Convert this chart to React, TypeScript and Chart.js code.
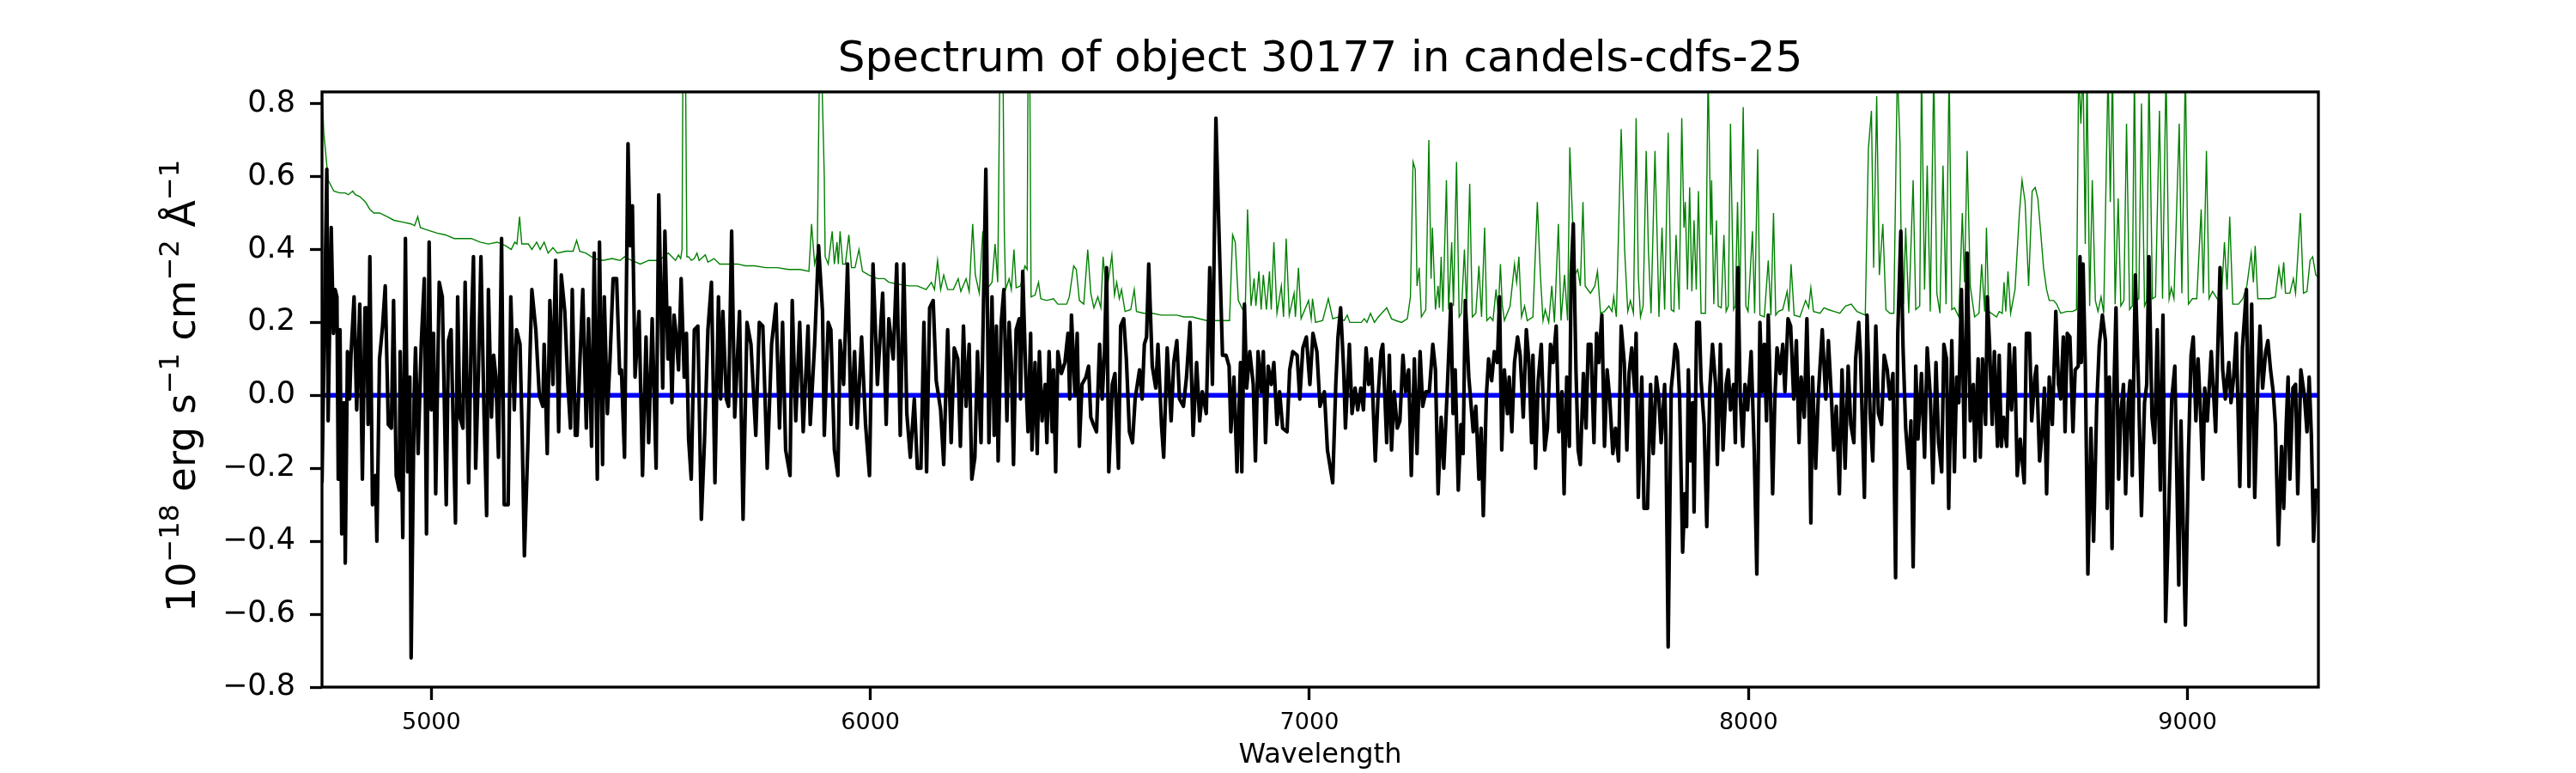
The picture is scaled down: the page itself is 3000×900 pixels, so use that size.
import React, { useEffect, useRef } from "react";
import { Chart, registerables } from "chart.js";

Chart.register(...registerables);

const FONT = "'DejaVu Sans', sans-serif";

const titleText = "Spectrum of object 30177 in candels-cdfs-25";
const xLabel = "Wavelength";
// y label pieces: [text, isSuperscript]
const yLabelParts: [string, boolean][] = [
  ["10", false],
  ["\u221218", true],
  [" erg s", false],
  ["\u22121", true],
  [" cm", false],
  ["\u22122", true],
  [" \u00c5", false],
  ["\u22121", true],
];

const xTicks = [5000, 6000, 7000, 8000, 9000];
const yTicks = [-0.8, -0.6, -0.4, -0.2, 0, 0.2, 0.4, 0.6, 0.8];
const xRange = [4751, 9298];
const yRange = [-0.8, 0.832];

// observed flux, [wavelength, flux]
const flux4750: [number, number][] = [
  [4751, -0.24], [4762, 0.62], [4765, -0.07], [4772, 0.46], [4777, 0.17], [4781, 0.29], [4785, 0.27], [4788, -0.23],
  [4792, 0.18], [4796, -0.38], [4801, -0.02], [4804, -0.46], [4809, 0.12], [4814, -0.01], [4817, 0.11], [4824, 0.27],
  [4830, -0.04], [4837, 0.25], [4843, -0.23], [4849, 0.24], [4853, 0.24], [4856, -0.08], [4860, 0.38], [4866, -0.3],
  [4873, -0.22], [4876, -0.4], [4882, 0.1], [4889, 0.19], [4895, 0.3], [4902, -0.08], [4909, -0.09], [4914, 0.26],
  [4920, -0.22], [4927, -0.26], [4929, 0.12], [4935, -0.39], [4941, 0.43], [4946, -0.21], [4951, 0.05], [4954, -0.72],
  [4961, 0.0], [4964, 0.13], [4970, -0.16], [4977, 0.14], [4984, 0.32], [4989, -0.38], [4995, 0.42], [5000, -0.04],
  [5005, 0.17], [5010, -0.27], [5018, 0.31], [5025, 0.27], [5029, 0.02], [5034, -0.3], [5039, 0.15], [5045, 0.18],
  [5051, -0.15], [5055, -0.35], [5060, 0.27], [5065, -0.06], [5072, -0.09], [5077, 0.31], [5085, -0.24], [5091, 0.18],
  [5096, 0.38], [5101, -0.2], [5107, 0.05], [5113, 0.38], [5120, -0.05], [5126, -0.33], [5130, 0.29], [5137, -0.06],
  [5142, 0.11], [5147, 0.05], [5153, -0.17], [5160, 0.43], [5166, -0.3], [5175, -0.3], [5181, 0.27], [5189, -0.04],
  [5194, 0.18], [5202, 0.14], [5207, -0.11], [5212, -0.44], [5220, -0.13], [5225, 0.12], [5229, 0.29], [5238, 0.18],
  [5246, 0.0], [5254, -0.03], [5257, 0.14], [5264, -0.16], [5270, 0.26], [5277, 0.03], [5283, 0.37], [5290, -0.1],
  [5296, 0.33], [5304, 0.23], [5311, 0.03], [5317, -0.09], [5321, 0.29], [5328, -0.11], [5332, -0.11], [5338, 0.08],
  [5345, 0.29], [5353, -0.09], [5358, 0.21], [5365, -0.14], [5371, 0.39], [5378, -0.23], [5383, 0.42], [5390, -0.19],
  [5394, 0.27], [5401, -0.05], [5407, 0.1], [5414, 0.32], [5422, 0.32], [5429, 0.06], [5433, 0.07], [5440, -0.17],
  [5448, 0.69], [5453, 0.41], [5458, 0.52], [5464, 0.05], [5473, 0.23], [5481, -0.22], [5489, 0.16], [5495, -0.13],
  [5503, 0.21], [5512, -0.2], [5518, 0.55],
];

const flux5500: [number, number][] = [
  [5527, 0.02], [5532, 0.45], [5539, 0.1], [5543, 0.24], [5548, -0.02], [5553, 0.22], [5558, 0.16], [5563, 0.07],
  [5569, 0.32], [5576, 0.05], [5581, 0.17], [5586, -0.12], [5592, -0.23], [5599, 0.18], [5607, 0.19], [5615, -0.34],
  [5622, -0.13], [5630, 0.18], [5638, 0.31], [5646, -0.24], [5654, 0.27], [5659, -0.01], [5664, 0.23], [5672, -0.01],
  [5677, -0.03], [5684, 0.45], [5691, -0.06], [5702, 0.23], [5710, -0.34], [5719, 0.2], [5728, 0.14], [5739, -0.11],
  [5747, 0.2], [5755, 0.19], [5765, -0.2], [5775, 0.14], [5785, 0.25], [5793, -0.09], [5800, 0.2], [5807, -0.15],
  [5817, -0.22], [5822, 0.26], [5830, -0.07], [5839, 0.2], [5847, -0.1], [5858, 0.19], [5863, -0.08], [5873, 0.14],
  [5882, 0.41], [5891, 0.23], [5895, -0.11], [5904, 0.2], [5910, 0.18], [5918, -0.15], [5926, -0.22], [5931, 0.15],
  [5939, 0.03], [5948, 0.36], [5956, -0.08], [5964, 0.12], [5970, -0.09], [5980, 0.16], [5989, -0.08], [5998, -0.22],
  [6006, 0.36], [6016, 0.03], [6028, 0.28], [6036, -0.08], [6042, 0.21], [6052, 0.1], [6060, 0.36], [6068, -0.11],
  [6076, 0.36], [6083, -0.05], [6091, -0.17], [6100, -0.01], [6107, -0.2], [6115, -0.2], [6122, 0.2], [6128, -0.21],
  [6135, 0.24], [6143, 0.26], [6150, 0.04], [6160, -0.04], [6167, -0.19], [6176, 0.18], [6184, -0.13], [6191, 0.13],
  [6199, 0.1], [6205, -0.14], [6212, 0.19], [6218, -0.03], [6225, 0.14], [6231, -0.23], [6238, -0.17], [6244, 0.12],
  [6252, -0.13], [6263, 0.62], [6270, -0.13], [6277, 0.27],
];

const flux6280: [number, number][] = [
  [6282, -0.11], [6287, 0.19], [6291, -0.18], [6298, 0.2], [6304, 0.29], [6311, -0.07], [6316, 0.2], [6321, 0.09],
  [6326, -0.19], [6332, 0.18], [6339, 0.21], [6342, -0.01], [6347, 0.34], [6354, 0.05], [6359, -0.1], [6365, 0.17],
  [6368, -0.15], [6375, 0.09], [6380, -0.16], [6385, 0.12], [6391, -0.07], [6398, 0.03], [6402, -0.13], [6407, 0.12],
  [6414, -0.1], [6417, 0.07], [6422, -0.21], [6427, 0.12], [6435, 0.06], [6443, 0.09], [6450, 0.17], [6454, -0.01],
  [6458, 0.22], [6466, 0.0], [6471, 0.17], [6476, -0.14], [6482, 0.03], [6491, 0.05], [6497, 0.08], [6502, -0.06],
  [6508, -0.08], [6515, -0.1], [6522, 0.14], [6528, -0.01], [6533, 0.11], [6538, 0.35], [6543, -0.21], [6551, 0.03],
  [6557, 0.06], [6565, -0.2], [6570, 0.19], [6577, 0.21], [6583, 0.1], [6590, -0.1], [6597, -0.13], [6603, -0.01],
  [6613, 0.07], [6619, -0.01], [6624, 0.14], [6629, 0.16], [6634, 0.36], [6642, 0.08], [6650, 0.02], [6655, 0.14],
  [6663, -0.08], [6668, -0.17], [6676, 0.13], [6685, -0.07], [6691, 0.09], [6698, 0.15], [6704, -0.01], [6713, -0.03],
  [6720, 0.05], [6728, 0.2], [6735, -0.11], [6743, 0.09], [6750, -0.07], [6756, 0.01], [6765, -0.05], [6773, 0.35],
  [6779, 0.03], [6787, 0.76], [6793, 0.49], [6802, 0.11], [6810, 0.11], [6817, 0.08], [6821, -0.1], [6828, 0.05],
  [6835, -0.21], [6843, 0.09], [6846, -0.21], [6852, 0.25], [6857, 0.02], [6864, 0.12], [6872, 0.03], [6877, -0.18],
  [6883, 0.12], [6890, 0.01], [6895, 0.12], [6900, -0.13], [6906, 0.08], [6913, 0.03], [6919, 0.09], [6926, -0.08],
  [6932, 0.01], [6939, -0.09], [6949, -0.1], [6955, 0.07], [6962, 0.12], [6972, 0.11], [6978, -0.01], [6985, 0.13],
  [6993, 0.16], [7001, 0.03], [7008, 0.17], [7017, 0.12], [7024, -0.03], [7034, 0.01], [7041, -0.15],
];

const flux7050: [number, number][] = [
  [7053, -0.24], [7060, 0.03], [7065, 0.16], [7071, 0.24], [7078, 0.07], [7082, -0.09], [7091, 0.14], [7097, -0.05],
  [7104, 0.02], [7110, -0.04], [7117, 0.02], [7123, -0.04], [7129, 0.13], [7135, 0.03], [7141, 0.1], [7150, -0.18],
  [7156, -0.01], [7163, 0.12], [7167, 0.14], [7176, -0.13], [7182, 0.11], [7187, -0.15], [7193, 0.01], [7200, -0.09],
  [7206, -0.07], [7213, 0.11], [7219, 0.01], [7226, 0.07], [7232, -0.22], [7239, 0.1], [7245, -0.16], [7252, 0.12],
  [7258, -0.03], [7265, 0.01], [7273, 0.01], [7281, 0.14], [7287, 0.07], [7293, -0.27], [7300, -0.06], [7306, -0.2],
  [7314, 0.02], [7322, 0.25], [7327, -0.05], [7332, 0.07], [7339, -0.26], [7345, -0.08], [7350, -0.16], [7355, 0.26],
  [7363, 0.05], [7373, -0.1], [7379, -0.03], [7386, -0.23], [7391, -0.09], [7396, -0.33], [7403, 0.0], [7408, 0.1],
  [7415, 0.04], [7421, 0.12], [7428, 0.09], [7433, 0.27], [7438, -0.15], [7444, 0.07], [7451, -0.05], [7455, 0.05],
  [7461, -0.1], [7467, 0.09], [7474, 0.16], [7480, 0.11], [7487, -0.06], [7494, 0.18], [7500, 0.09], [7506, -0.13],
  [7509, 0.11], [7515, -0.2], [7521, 0.04], [7528, 0.14], [7536, -0.15], [7542, -0.09], [7549, 0.14], [7555, 0.09],
  [7562, 0.19], [7568, -0.1], [7575, 0.01], [7580, -0.27], [7586, 0.05], [7592, -0.14], [7596, 0.33], [7601, 0.47],
  [7607, 0.07], [7612, -0.15], [7617, -0.19], [7624, 0.06], [7630, -0.09], [7635, 0.14], [7641, 0.14], [7648, -0.13],
  [7654, 0.17], [7659, 0.09], [7666, 0.22], [7672, -0.14], [7678, 0.07], [7684, -0.01], [7691, -0.16], [7697, -0.09],
  [7704, -0.18], [7710, 0.19], [7717, 0.09], [7723, -0.15], [7728, 0.06], [7734, 0.13], [7741, 0.01], [7744, 0.17],
  [7749, -0.28], [7757, 0.05], [7762, -0.31], [7770, -0.31], [7777, 0.03], [7783, -0.16], [7790, 0.05], [7796, -0.01],
  [7801, -0.13], [7809, 0.03],
];

const flux7810: [number, number][] = [
  [7812, -0.12], [7817, -0.69], [7824, 0.02], [7829, 0.08], [7833, 0.14], [7838, 0.12], [7843, 0.0], [7850, -0.43],
  [7855, -0.27], [7859, -0.36], [7863, 0.07], [7868, -0.18], [7873, -0.02], [7876, -0.32], [7882, 0.2], [7888, 0.2],
  [7892, 0.04], [7899, -0.08], [7905, -0.36], [7912, 0.02], [7918, 0.14], [7925, 0.03], [7929, -0.19], [7936, 0.14],
  [7942, -0.15], [7949, 0.03], [7954, 0.07], [7959, -0.04], [7966, 0.03], [7970, -0.13], [7976, 0.35], [7981, 0.0],
  [7987, -0.14], [7992, 0.03], [7998, -0.04], [8006, 0.12], [8013, -0.15], [8019, -0.49], [8026, 0.2], [8031, 0.01],
  [8036, 0.14], [8041, -0.07], [8045, 0.22], [8051, -0.05], [8055, -0.27], [8060, -0.01], [8065, 0.13], [8072, 0.06],
  [8078, 0.14], [8083, 0.01], [8090, 0.21], [8096, 0.19], [8103, -0.01], [8109, 0.15], [8115, -0.13], [8120, 0.05],
  [8127, -0.06], [8133, 0.21], [8139, -0.11], [8142, -0.35], [8146, 0.05], [8153, -0.2], [8159, 0.0], [8168, 0.18],
  [8176, -0.01], [8182, 0.15], [8189, -0.01], [8194, -0.15], [8200, -0.03], [8207, -0.27], [8213, 0.07], [8220, -0.2],
  [8227, 0.08], [8233, -0.08], [8240, -0.13], [8244, 0.1], [8251, 0.2], [8255, 0.11], [8261, -0.15], [8264, -0.28],
  [8270, 0.22], [8277, -0.05], [8283, -0.18], [8290, 0.19], [8296, -0.05], [8303, -0.08], [8309, 0.11], [8316, 0.07],
  [8322, -0.01], [8329, 0.06], [8335, -0.5], [8340, 0.17], [8347, 0.45], [8352, 0.13], [8358, -0.09], [8365, -0.2],
  [8370, -0.07], [8375, -0.47], [8381, 0.08], [8386, -0.12], [8394, 0.06], [8401, -0.17], [8407, 0.13], [8414, 0.0],
  [8420, -0.24], [8427, 0.09], [8433, -0.13], [8440, -0.21], [8445, 0.14], [8451, 0.1], [8456, -0.31], [8463, 0.15],
  [8469, -0.21], [8474, 0.05], [8479, -0.02], [8485, 0.29], [8492, -0.17], [8498, 0.39], [8505, -0.07], [8512, 0.03],
  [8516, -0.18], [8523, 0.1], [8528, -0.17], [8533, 0.1], [8540, -0.08], [8544, 0.27], [8549, 0.14], [8555, -0.08],
  [8560, 0.12], [8567, -0.14],
];

const flux8570: [number, number][] = [
  [8571, 0.11], [8576, -0.14], [8581, -0.06], [8588, -0.14], [8594, 0.14], [8599, -0.04], [8606, 0.13], [8612, -0.22],
  [8619, -0.12], [8628, -0.24], [8633, 0.17], [8640, 0.17], [8645, -0.07], [8652, 0.05], [8656, 0.08], [8663, -0.18],
  [8669, -0.1], [8674, 0.02], [8679, -0.27], [8685, 0.05], [8692, -0.08], [8700, 0.23], [8706, 0.03], [8711, -0.01],
  [8717, 0.16], [8721, -0.1], [8726, 0.17], [8732, 0.16], [8739, -0.1], [8744, 0.07], [8751, 0.08], [8755, 0.38],
  [8758, 0.09], [8762, 0.36], [8767, 0.09], [8773, -0.49], [8780, -0.09], [8786, -0.4], [8793, -0.03], [8799, 0.14],
  [8806, 0.22], [8813, 0.15], [8817, -0.31], [8822, 0.05], [8828, -0.42], [8832, 0.0], [8837, 0.24], [8843, -0.23],
  [8848, -0.05], [8854, 0.03], [8859, -0.27], [8865, -0.02], [8869, 0.04], [8874, -0.22], [8881, 0.33], [8888, 0.04],
  [8895, -0.33], [8902, -0.02], [8907, 0.03], [8912, 0.38], [8919, -0.06], [8925, -0.13], [8931, 0.18], [8938, -0.26],
  [8944, 0.22], [8950, -0.62], [8958, -0.28], [8964, -0.01], [8971, 0.08], [8980, -0.52], [8985, -0.07], [8995, -0.63],
  [9002, -0.16], [9008, 0.11], [9013, 0.16], [9019, -0.07], [9024, 0.1], [9030, -0.06], [9035, -0.23], [9039, 0.02],
  [9045, -0.07], [9054, 0.12], [9064, -0.1], [9070, 0.18], [9074, 0.35], [9080, 0.07], [9086, -0.01], [9094, 0.09],
  [9099, -0.02], [9105, 0.05], [9111, 0.17], [9119, -0.25], [9125, 0.13], [9134, 0.29], [9140, -0.25], [9146, 0.25],
  [9153, -0.28], [9160, 0.03], [9165, 0.19], [9171, 0.02], [9178, 0.12], [9183, 0.15], [9189, 0.07], [9195, 0.01],
  [9200, -0.08], [9207, -0.41], [9214, -0.14], [9219, -0.31], [9225, -0.07], [9229, 0.05], [9233, -0.23], [9240, 0.02],
  [9246, 0.03], [9251, -0.27], [9258, 0.07], [9266, 0.0], [9272, -0.1], [9277, 0.05], [9282, -0.11], [9287, -0.4],
  [9292, -0.26], [9298, -0.28],
];

// error / sky spectrum, [wavelength, flux]
const noise4750: [number, number][] = [
  [4751, 0.95], [4752, 0.82], [4755, 0.72], [4759, 0.67], [4765, 0.59], [4778, 0.56], [4791, 0.555], [4804, 0.555],
  [4811, 0.55], [4821, 0.56], [4827, 0.55], [4837, 0.545], [4850, 0.53], [4860, 0.51], [4869, 0.5], [4882, 0.5],
  [4899, 0.49], [4915, 0.48], [4935, 0.475], [4954, 0.47], [4962, 0.465], [4969, 0.49], [4975, 0.46], [4987, 0.455],
  [5013, 0.445], [5032, 0.44], [5052, 0.43], [5072, 0.43], [5091, 0.43], [5111, 0.42], [5130, 0.415], [5150, 0.42],
  [5169, 0.41], [5182, 0.4], [5190, 0.42], [5195, 0.415], [5201, 0.49], [5206, 0.415], [5221, 0.415], [5229, 0.4],
  [5240, 0.42], [5248, 0.4], [5257, 0.42], [5266, 0.39], [5277, 0.405], [5287, 0.39], [5306, 0.395], [5323, 0.395],
  [5331, 0.425], [5338, 0.395], [5352, 0.39], [5371, 0.375], [5391, 0.37], [5411, 0.375], [5430, 0.37], [5440, 0.38],
  [5456, 0.37], [5476, 0.36], [5495, 0.37], [5518, 0.37], [5540, 0.39], [5556, 0.37], [5563, 0.385], [5568, 0.375],
  [5571, 0.4], [5573, 0.9], [5577, 0.9], [5579, 0.9], [5582, 0.38], [5586, 0.38], [5592, 0.37], [5599, 0.375],
  [5605, 0.39], [5610, 0.37], [5624, 0.385], [5630, 0.365], [5644, 0.375], [5657, 0.36], [5677, 0.36], [5697, 0.36],
  [5716, 0.355], [5736, 0.355], [5762, 0.35], [5788, 0.35], [5814, 0.345], [5840, 0.345], [5860, 0.34], [5866, 0.47],
  [5873, 0.36], [5879, 0.39], [5884, 0.9], [5889, 0.9], [5892, 0.75], [5895, 0.6], [5897, 0.38], [5904, 0.36],
  [5913, 0.45], [5918, 0.36], [5924, 0.42], [5927, 0.36], [5931, 0.45], [5937, 0.36], [5943, 0.36], [5951, 0.44],
  [5957, 0.35], [5965, 0.35], [5974, 0.4], [5982, 0.34], [5996, 0.33], [6016, 0.32], [6032, 0.32], [6042, 0.31],
  [6062, 0.305], [6088, 0.3], [6107, 0.3], [6127, 0.29], [6139, 0.31], [6146, 0.29], [6153, 0.37], [6160, 0.29],
  [6167, 0.33], [6176, 0.29], [6189, 0.29], [6200, 0.32], [6206, 0.285], [6218, 0.32], [6225, 0.285], [6233, 0.47],
  [6239, 0.33], [6248, 0.28], [6256, 0.45], [6264, 0.29],
];

const noise6270: [number, number][] = [
  [6271, 0.3], [6277, 0.31], [6284, 0.415], [6290, 0.31], [6295, 0.9], [6299, 0.9], [6302, 0.9], [6305, 0.45],
  [6308, 0.29], [6316, 0.32], [6321, 0.29], [6327, 0.4], [6332, 0.295], [6342, 0.3], [6352, 0.355], [6357, 0.345],
  [6359, 0.9], [6363, 0.9], [6366, 0.27], [6375, 0.275], [6383, 0.31], [6388, 0.265], [6401, 0.26], [6417, 0.265],
  [6427, 0.25], [6447, 0.25], [6453, 0.27], [6463, 0.355], [6469, 0.345], [6476, 0.26], [6486, 0.25], [6495, 0.4],
  [6502, 0.28], [6509, 0.24], [6518, 0.27], [6525, 0.24], [6530, 0.38], [6538, 0.28], [6550, 0.385], [6556, 0.275],
  [6561, 0.31], [6567, 0.265], [6572, 0.29], [6580, 0.23], [6593, 0.235], [6601, 0.29], [6606, 0.23], [6623, 0.225],
  [6642, 0.225], [6662, 0.22], [6681, 0.22], [6698, 0.22], [6714, 0.215], [6733, 0.215], [6766, 0.205], [6792, 0.205],
  [6818, 0.205], [6825, 0.44], [6831, 0.42], [6838, 0.26], [6848, 0.235], [6854, 0.245], [6859, 0.51], [6867, 0.245],
  [6874, 0.32], [6878, 0.245], [6885, 0.34], [6890, 0.235], [6895, 0.33], [6902, 0.235], [6909, 0.34], [6913, 0.235],
  [6919, 0.42], [6926, 0.225], [6936, 0.3], [6941, 0.215], [6947, 0.43], [6954, 0.22], [6965, 0.28], [6968, 0.215],
  [6975, 0.35], [6981, 0.21], [6998, 0.26], [7004, 0.21], [7007, 0.265], [7014, 0.2], [7030, 0.205], [7043, 0.265],
  [7053, 0.21], [7066, 0.215], [7079, 0.205], [7086, 0.22], [7092, 0.2], [7118, 0.2], [7125, 0.21], [7131, 0.2],
  [7139, 0.225], [7148, 0.2], [7157, 0.215], [7176, 0.24], [7187, 0.21], [7197, 0.205], [7210, 0.2], [7223, 0.21],
];

const noise7230: [number, number][] = [
  [7230, 0.27], [7236, 0.64], [7241, 0.62], [7245, 0.3], [7250, 0.35], [7255, 0.215], [7265, 0.235], [7272, 0.7],
  [7277, 0.32], [7280, 0.46], [7287, 0.235], [7293, 0.3], [7296, 0.24], [7300, 0.38], [7304, 0.23], [7312, 0.59],
  [7317, 0.235], [7324, 0.42], [7328, 0.245], [7335, 0.64], [7341, 0.215], [7346, 0.225], [7353, 0.4], [7358, 0.235],
  [7365, 0.58], [7371, 0.215], [7379, 0.225], [7386, 0.355], [7392, 0.215], [7399, 0.46], [7404, 0.205], [7412, 0.215],
  [7418, 0.205], [7425, 0.29], [7430, 0.225], [7435, 0.36], [7439, 0.25], [7444, 0.205], [7457, 0.245], [7467, 0.36],
  [7472, 0.31], [7477, 0.38], [7483, 0.215], [7490, 0.245], [7496, 0.205], [7509, 0.215], [7519, 0.53], [7526, 0.33],
  [7532, 0.205], [7537, 0.235], [7545, 0.2], [7552, 0.3], [7558, 0.2], [7567, 0.47], [7573, 0.205], [7581, 0.33],
  [7588, 0.205], [7593, 0.68], [7599, 0.49], [7604, 0.33], [7611, 0.345], [7617, 0.3], [7623, 0.53], [7628, 0.3],
  [7640, 0.28], [7650, 0.3], [7656, 0.34], [7663, 0.225], [7672, 0.23], [7682, 0.245], [7689, 0.23], [7693, 0.27],
  [7699, 0.215], [7710, 0.73], [7715, 0.53], [7718, 0.395], [7725, 0.23], [7731, 0.26], [7738, 0.225], [7744, 0.76],
  [7749, 0.33], [7754, 0.215], [7760, 0.245], [7767, 0.67], [7772, 0.4], [7778, 0.225], [7787, 0.67], [7793, 0.38],
  [7796, 0.215], [7803, 0.46], [7809, 0.235], [7817, 0.72], [7824, 0.235], [7830, 0.23], [7835, 0.44], [7842, 0.235],
  [7848, 0.76], [7853, 0.46], [7856, 0.53], [7861, 0.29], [7866, 0.57], [7871, 0.285], [7876, 0.48], [7881, 0.29],
  [7886, 0.56], [7892, 0.225], [7902, 0.225], [7908, 0.9], [7914, 0.44], [7916, 0.59], [7921, 0.25], [7927, 0.48],
  [7931, 0.245], [7938, 0.24], [7944, 0.44], [7949, 0.23], [7954, 0.245], [7959, 0.745], [7966, 0.235], [7970, 0.245],
  [7975, 0.53], [7980, 0.25], [7988, 0.79], [7994, 0.245], [7999, 0.23],
];

const noise8000: [number, number][] = [
  [8009, 0.45], [8014, 0.225], [8021, 0.675], [8026, 0.22], [8036, 0.215], [8045, 0.37], [8051, 0.22], [8057, 0.5],
  [8062, 0.22], [8068, 0.23], [8078, 0.235], [8088, 0.285], [8092, 0.23], [8097, 0.36], [8104, 0.22], [8117, 0.215],
  [8130, 0.26], [8137, 0.24], [8142, 0.295], [8148, 0.23], [8163, 0.225], [8172, 0.24], [8182, 0.235], [8195, 0.23],
  [8208, 0.225], [8221, 0.245], [8234, 0.25], [8247, 0.23], [8266, 0.22], [8273, 0.675], [8280, 0.78], [8285, 0.35],
  [8292, 0.82], [8298, 0.33], [8306, 0.47], [8313, 0.235], [8322, 0.225], [8331, 0.225], [8339, 0.9], [8345, 0.69],
  [8349, 0.29], [8353, 0.25], [8358, 0.46], [8365, 0.225], [8375, 0.59], [8381, 0.235], [8390, 0.245], [8394, 0.9],
  [8401, 0.29], [8407, 0.63], [8414, 0.23], [8422, 0.9], [8429, 0.28], [8436, 0.225], [8443, 0.63], [8450, 0.25],
  [8457, 0.9], [8463, 0.235], [8469, 0.24], [8479, 0.215], [8487, 0.5], [8492, 0.31], [8498, 0.67], [8505, 0.3],
  [8515, 0.215], [8525, 0.225], [8531, 0.36], [8538, 0.23], [8542, 0.46], [8547, 0.23], [8565, 0.215], [8571, 0.23],
  [8578, 0.225], [8582, 0.31], [8586, 0.23], [8591, 0.34], [8597, 0.225], [8607, 0.29], [8617, 0.5], [8623, 0.59],
  [8630, 0.53], [8638, 0.3], [8646, 0.56], [8653, 0.57], [8659, 0.54], [8666, 0.44], [8672, 0.35], [8679, 0.29],
  [8685, 0.26], [8695, 0.26], [8702, 0.25], [8711, 0.225], [8725, 0.23], [8738, 0.23], [8747, 0.235],
];

const noise8750: [number, number][] = [
  [8752, 0.9], [8757, 0.745], [8762, 0.9], [8767, 0.415], [8771, 0.9], [8777, 0.245], [8783, 0.59], [8790, 0.26],
  [8796, 0.23], [8803, 0.27], [8809, 0.225], [8819, 0.9], [8824, 0.53], [8829, 0.9], [8835, 0.25], [8842, 0.54],
  [8848, 0.245], [8855, 0.26], [8861, 0.745], [8868, 0.235], [8874, 0.245], [8879, 0.9], [8884, 0.26], [8889, 0.265],
  [8895, 0.8], [8902, 0.245], [8907, 0.26], [8912, 0.9], [8920, 0.265], [8927, 0.27], [8936, 0.78], [8943, 0.265],
  [8951, 0.9], [8958, 0.265], [8963, 0.295], [8969, 0.265], [8981, 0.745], [8987, 0.28], [8995, 0.9], [9002, 0.25],
  [9011, 0.265], [9021, 0.265], [9031, 0.51], [9036, 0.28], [9043, 0.67], [9049, 0.265], [9057, 0.285], [9070, 0.26],
  [9077, 0.265], [9084, 0.42], [9090, 0.29], [9096, 0.49], [9103, 0.25], [9116, 0.25], [9126, 0.265], [9135, 0.3],
  [9145, 0.39], [9150, 0.31], [9154, 0.41], [9160, 0.265], [9174, 0.265], [9187, 0.265], [9200, 0.27], [9208, 0.35],
  [9214, 0.3], [9219, 0.365], [9223, 0.28], [9233, 0.28], [9241, 0.32], [9246, 0.28], [9257, 0.5], [9264, 0.28],
  [9272, 0.285], [9279, 0.37], [9285, 0.38], [9292, 0.33], [9297, 0.325],
];

// model continuum
const modelWave = [4751, 9298];
const modelFlux = [0, 0];

const fluxPoints = [...flux4750, ...flux5500, ...flux6280, ...flux7050, ...flux7810, ...flux8570];
const noisePoints = [...noise4750, ...noise6270, ...noise7230, ...noise8000, ...noise8750];

const fmtY = (v: number) => {
  const s = Math.abs(v).toFixed(1);
  return v < -1e-9 ? "\u2212" + s : s;
};

const textPlugin = {
  id: "spectrumText",
  afterDraw(chart: Chart) {
    const { ctx, chartArea } = chart;
    const cx = (chartArea.left + chartArea.right) / 2;
    ctx.save();
    // axes frame
    ctx.strokeStyle = "#000";
    ctx.lineWidth = 3.3;
    ctx.strokeRect(chartArea.left, chartArea.top, chartArea.right - chartArea.left, chartArea.bottom - chartArea.top);

    ctx.fillStyle = "#000";
    ctx.textBaseline = "alphabetic";
    ctx.textAlign = "center";
    ctx.font = `50px ${FONT}`;
    ctx.fillText(titleText, cx, chartArea.top - 24);
    ctx.font = `32px ${FONT}`;
    ctx.fillText(xLabel, cx, chartArea.bottom + 88);

    // rotated y label with superscripts
    const mainFont = `46px ${FONT}`;
    const supFont = `32px ${FONT}`;
    let total = 0;
    const widths = yLabelParts.map(([t, sup]) => {
      ctx.font = sup ? supFont : mainFont;
      const w = ctx.measureText(t).width;
      total += w;
      return w;
    });
    ctx.translate(227, (chartArea.top + chartArea.bottom) / 2 - 4);
    ctx.rotate(-Math.PI / 2);
    ctx.textAlign = "left";
    let x = -total / 2;
    yLabelParts.forEach(([t, sup], i) => {
      ctx.font = sup ? supFont : mainFont;
      ctx.fillText(t, x, sup ? -19 : 0);
      x += widths[i];
    });
    ctx.restore();
  },
};

const App: React.FC = () => {
  const chartRef = useRef<HTMLCanvasElement | null>(null);
  const chartInstance = useRef<Chart | null>(null);

  useEffect(() => {
    if (!chartRef.current) return;
    if (chartInstance.current) chartInstance.current.destroy();

    chartInstance.current = new Chart(chartRef.current, {
      type: "line",
      data: {
        datasets: [
          {
            label: "flux",
            data: fluxPoints.map(([x, y]) => ({ x, y })),
            borderColor: "#000000",
            borderWidth: 4.2,
            pointRadius: 0,
            tension: 0,
            borderJoinStyle: "round",
            clip: 0,
          },
          {
            label: "model",
            data: modelWave.map((x, i) => ({ x, y: modelFlux[i] })),
            borderColor: "#0000ff",
            borderWidth: 5.5,
            pointRadius: 0,
            clip: 0,
          },
          {
            label: "error",
            data: noisePoints.map(([x, y]) => ({ x, y })),
            borderColor: "#008000",
            borderWidth: 1.4,
            pointRadius: 0,
            tension: 0,
            clip: 0,
          },
        ],
      },
      options: {
        animation: false,
        responsive: false,
        devicePixelRatio: 1,
        layout: { padding: { left: 0, right: 300, top: 107, bottom: 0 } },
        plugins: {
          legend: { display: false },
          tooltip: { enabled: false },
          title: { display: false },
        },
        scales: {
          x: {
            type: "linear",
            min: xRange[0],
            max: xRange[1],
            afterFit: (s: any) => {
              s.height = 100;
            },
            afterBuildTicks: (s: any) => {
              s.ticks = xTicks.map((v) => ({ value: v }));
            },
            grid: { drawOnChartArea: false, drawTicks: true, tickLength: 15, tickWidth: 3.3, tickColor: "#000" },
            border: { display: false },
            ticks: {
              color: "#000",
              font: { family: FONT, size: 27 },
              padding: 11,
              maxRotation: 0,
              autoSkip: false,
              callback: (v: any) => String(v),
            },
          },
          y: {
            type: "linear",
            min: yRange[0],
            max: yRange[1],
            afterFit: (s: any) => {
              s.width = 375;
            },
            afterBuildTicks: (s: any) => {
              s.ticks = yTicks.map((v) => ({ value: v }));
            },
            grid: { drawOnChartArea: false, drawTicks: true, tickLength: 14, tickWidth: 3.3, tickColor: "#000" },
            border: { display: false },
            ticks: {
              color: "#000",
              font: { family: FONT, size: 35 },
              padding: 17,
              autoSkip: false,
              callback: (v: any) => fmtY(Number(v)),
            },
          },
        },
      },
      plugins: [textPlugin],
    });

    return () => {
      if (chartInstance.current) {
        chartInstance.current.destroy();
        chartInstance.current = null;
      }
    };
  }, []);

  return (
    <div style={{ position: "absolute", left: 0, top: 0, width: 3000, height: 900, background: "#fff" }}>
      <canvas ref={chartRef} width={3000} height={900}></canvas>
    </div>
  );
};

export default App;
